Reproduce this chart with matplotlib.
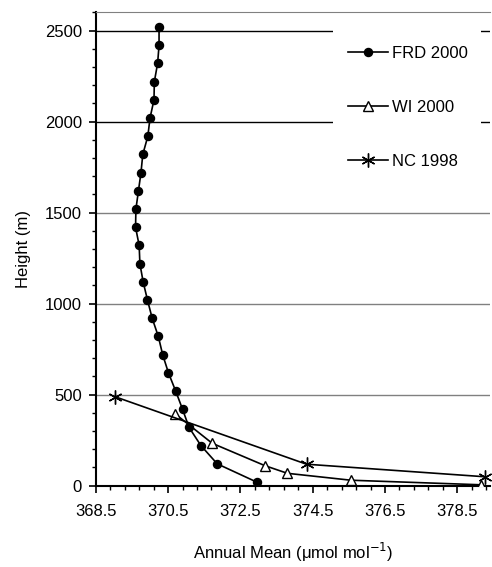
import numpy as np
import matplotlib
matplotlib.use("Agg")
import matplotlib.pyplot as plt
from matplotlib.patches import Rectangle
from matplotlib.ticker import FixedLocator, MultipleLocator

plt.rcParams['font.family'] = ['Liberation Sans', 'DejaVu Sans']

# FRD 2000 profile (filled circles)
frd_height = [20, 120, 220, 320, 420, 520, 620, 720, 820, 920, 1020, 1120, 1220,
              1320, 1420, 1520, 1620, 1720, 1820, 1920, 2020, 2120, 2220, 2320, 2420, 2520]
frd_co2 = [372.95, 371.86, 371.41, 371.08, 370.90, 370.71, 370.51, 370.35, 370.23,
           370.06, 369.93, 369.81, 369.72, 369.70, 369.60, 369.61, 369.68, 369.75,
           369.80, 369.94, 370.00, 370.11, 370.12, 370.21, 370.25, 370.25]

# WI 2000 profile (open triangles)
wi_height = [5, 30, 68, 110, 233, 394]
wi_co2 = [379.15, 375.56, 373.80, 373.18, 371.72, 370.70]

# NC 1998 profile (asterisks)
nc_height = [49, 118, 489]
nc_co2 = [379.27, 374.33, 369.03]

x_ticks = [368.5, 370.5, 372.5, 374.5, 376.5, 378.5]
y_ticks = [0, 500, 1000, 1500, 2000, 2500]

fig = plt.figure(figsize=(4.92, 5.67), dpi=100)
ax = fig.add_axes([0.1947, 0.1434, 0.8008, 0.8346])

# horizontal reference lines
for h in [500, 1000, 1500]:
    ax.axhline(h, color='#808080', lw=1.0, zorder=1)
for h in [2000, 2500]:
    ax.axhline(h, color='black', lw=1.0, zorder=1)

# white block behind the legend (hides the lines there)
ax.add_patch(Rectangle((0.602, 0.61), 0.376, 0.375, transform=ax.transAxes,
                       facecolor='white', edgecolor='none', zorder=2))

ax.plot(frd_co2, frd_height, color='black', lw=1.2, marker='o', ms=5.8,
        mfc='black', mec='black', label='FRD 2000', zorder=3)
ax.plot(wi_co2, wi_height, color='black', lw=1.2, marker='^', ms=6.5,
        mfc='white', mec='black', mew=1.0, label='WI 2000', zorder=3)
ax.plot(nc_co2, nc_height, color='black', lw=1.2, marker=(6, 2, 0), ms=10,
        mec='black', mew=1.0, label='NC 1998', zorder=3, clip_on=False)

ax.set_xlim(368.5, 379.4)
ax.set_ylim(0, 2600)

ax.xaxis.set_major_locator(FixedLocator(x_ticks))
ax.xaxis.set_minor_locator(MultipleLocator(0.4, offset=0.1))
ax.yaxis.set_major_locator(FixedLocator(y_ticks))
ax.yaxis.set_minor_locator(MultipleLocator(100))
ax.set_xticklabels([f"{v:.1f}" for v in x_ticks])
ax.set_yticklabels([str(v) for v in y_ticks])

ax.tick_params(axis='both', which='major', direction='out', length=5, width=1.2,
               labelsize=12, colors='black')
ax.tick_params(axis='both', which='minor', direction='out', length=3, width=1.0)
ax.tick_params(axis='x', which='major', pad=8)
ax.tick_params(axis='y', which='major', pad=5)

ax.spines['right'].set_visible(False)
ax.spines['top'].set_color('#808080')
ax.spines['left'].set_linewidth(1.5)
ax.spines['bottom'].set_linewidth(1.5)

ax.set_xlabel('Annual Mean (\u03bcmol mol$^{-1}$)', fontsize=12, labelpad=16)
ax.set_ylabel('Height (m)', fontsize=12, labelpad=10)

leg = ax.legend(loc='upper left', bbox_to_anchor=(0.587, 0.974), frameon=False,
                fontsize=12, handlelength=2.4, handletextpad=0.24, labelspacing=2.35,
                borderpad=0.75, numpoints=1)

fig.savefig('out.png', dpi=100)
